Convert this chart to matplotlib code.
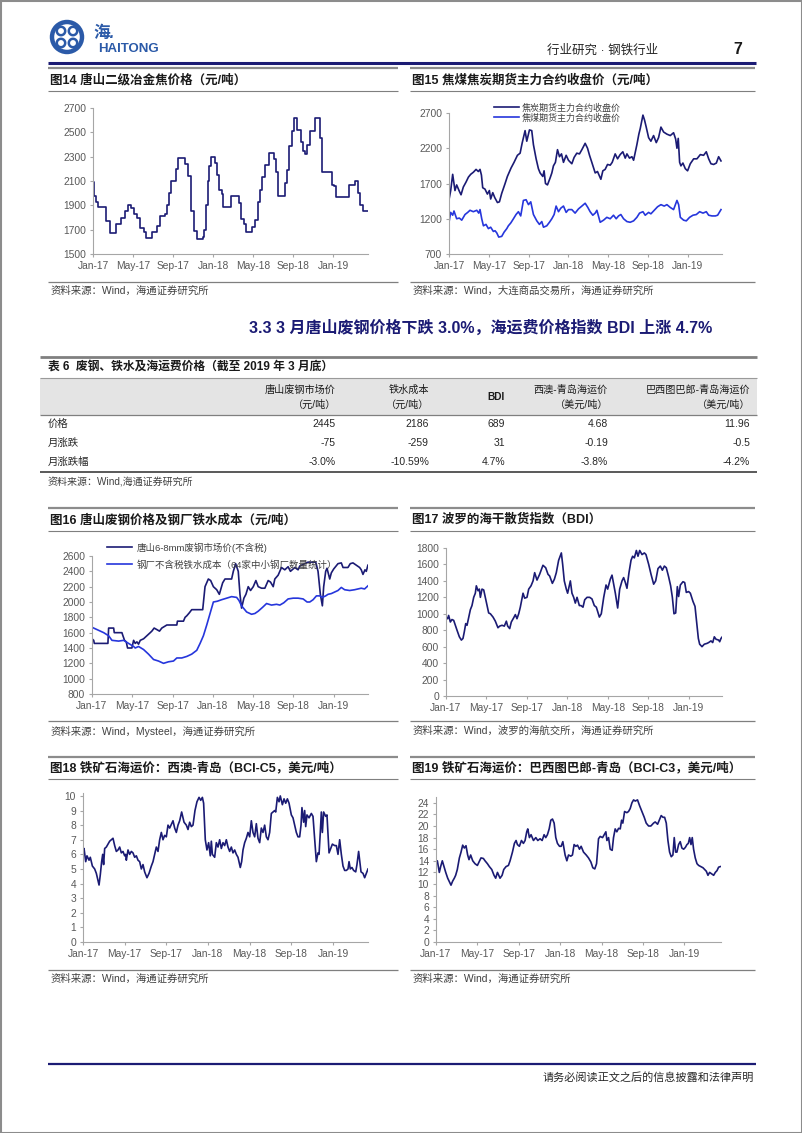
import matplotlib
matplotlib.use("Agg")
import matplotlib.pyplot as plt
from matplotlib.patches import Rectangle, Circle

plt.rcParams['font.family'] = ['Liberation Sans', 'Noto Sans CJK SC']

NAVY = '#1b1b74'
BLUE = '#2636dc'
GRID_GRAY = '#a6a6a6'
TXT_GRAY = '#595959'

month_ticks = [0, 4, 8, 12, 16, 20, 24]
month_labels = ['Jan-17', 'May-17', 'Sep-17', 'Jan-18', 'May-18', 'Sep-18', 'Jan-19']

# (months since Jan-17, value)
coke_tangshan = [
    (0.0, 2090), (0.07, 1980), (0.27, 1930), (0.47, 1890), (1.27, 1770), (1.73, 1670),
    (2.33, 1750), (2.83, 1800), (3.17, 1850), (3.5, 1900), (3.83, 1880), (4.1, 1830),
    (4.43, 1800), (4.67, 1710), (5.07, 1680), (5.33, 1630), (5.93, 1680), (6.43, 1730),
    (6.67, 1810), (7.17, 1830), (7.43, 1900), (7.6, 2000), (7.83, 2100), (8.27, 2200),
    (8.47, 2290), (9.23, 2240), (9.5, 2140), (9.83, 1850), (10.1, 1690), (10.43, 1620),
    (11.0, 1640), (11.13, 1700), (11.3, 1900), (11.47, 2100), (11.63, 2220), (11.83, 2300),
    (12.23, 2250), (12.4, 2150), (12.63, 2030), (12.87, 1990), (13.03, 1890), (13.83, 1980),
    (14.57, 1920), (14.8, 1790), (15.07, 1750), (15.33, 1680), (15.93, 1720), (16.2, 1780),
    (16.5, 1930), (16.73, 2030), (16.93, 2130), (17.2, 2230), (17.6, 2330), (18.07, 2280),
    (18.3, 2170), (18.53, 1980), (19.2, 2080), (19.4, 2190), (19.6, 2390), (19.87, 2510),
    (20.13, 2620), (20.37, 2520), (20.77, 2420), (20.97, 2350), (21.2, 2320), (21.43, 2400),
    (21.73, 2510), (22.17, 2620), (22.73, 2450), (22.93, 2170), (23.87, 2070), (24.07, 2060),
    (24.27, 1970), (25.6, 2070), (26.23, 2100), (26.47, 2000), (26.67, 1900), (27.0, 1850),
    (27.5, 1850),
]

coke_futures = [
    (0.0, 1470), (0.17, 1600), (0.37, 1830), (0.6, 1600), (0.77, 1680), (1.04, 1590),
    (1.21, 1540), (1.44, 1650), (1.71, 1720), (1.95, 1790), (2.18, 1830), (2.45, 1860),
    (2.72, 1900), (2.95, 1870), (3.12, 1900), (3.26, 1820), (3.39, 1640), (3.62, 1620),
    (3.86, 1550), (4.06, 1600), (4.19, 1480), (4.4, 1570), (4.6, 1500), (4.87, 1430),
    (5.07, 1440), (5.3, 1560), (5.64, 1700), (5.87, 1800), (6.24, 1920), (6.54, 2000),
    (6.88, 2100), (7.15, 2130), (7.35, 2270), (7.65, 2450), (7.82, 2300), (8.09, 2460),
    (8.32, 2450), (8.49, 2250), (8.76, 2050), (8.99, 1910), (9.16, 1850), (9.43, 1800),
    (9.56, 1880), (9.7, 1700), (9.9, 1680), (10.17, 1780), (10.34, 1850), (10.5, 1950),
    (10.7, 2000), (10.91, 2180), (11.11, 2080), (11.31, 2120), (11.51, 2000), (11.78, 2100),
    (12.01, 2030), (12.35, 1980), (12.58, 2070), (12.85, 2130), (13.12, 2120), (13.36, 2180),
    (13.69, 2270), (13.93, 2200), (14.13, 2100), (14.36, 2000), (14.7, 1850), (14.93, 1870),
    (15.27, 1760), (15.47, 1880), (15.7, 1900), (15.94, 1970), (16.21, 1960), (16.41, 2000),
    (16.71, 2120), (16.95, 2050), (17.21, 2110), (17.48, 2150), (17.72, 2060), (17.89, 2120),
    (18.15, 2060), (18.39, 2080), (18.56, 2030), (18.89, 2250), (19.09, 2400), (19.23, 2480),
    (19.5, 2670), (19.66, 2600), (19.83, 2500), (20.07, 2350), (20.3, 2300), (20.57, 2380),
    (20.84, 2280), (21.07, 2350), (21.31, 2500), (21.58, 2430), (21.91, 2400), (22.25, 2380),
    (22.58, 2420), (22.79, 2330), (22.92, 2200), (23.05, 2340), (23.19, 2000), (23.32, 1950),
    (23.52, 1990), (23.76, 1910), (23.99, 1880), (24.26, 1980), (24.6, 2050), (24.93, 2050),
    (25.27, 2110), (25.6, 2100), (25.87, 2150), (26.11, 2050), (26.34, 1980), (26.61, 1970),
    (26.88, 1990), (27.11, 2080), (27.35, 2020),
]

coal_futures = [
    (0.0, 1150), (0.17, 1290), (0.37, 1250), (0.5, 1310), (0.77, 1200), (1.04, 1210),
    (1.28, 1180), (1.61, 1260), (1.88, 1290), (2.11, 1320), (2.45, 1300), (2.79, 1320),
    (2.99, 1280), (3.12, 1330), (3.29, 1200), (3.46, 1100), (3.72, 1120), (3.96, 1060),
    (4.19, 1080), (4.46, 1020), (4.63, 1030), (4.8, 1000), (5.0, 940), (5.3, 950),
    (5.54, 1010), (5.81, 1060), (5.97, 1100), (6.21, 1140), (6.48, 1200), (6.74, 1260),
    (6.98, 1300), (7.21, 1240), (7.48, 1460), (7.75, 1470), (7.99, 1400), (8.22, 1440),
    (8.49, 1260), (8.83, 1170), (9.09, 1120), (9.33, 1160), (9.5, 1080), (9.83, 1100),
    (10.1, 1150), (10.34, 1200), (10.57, 1260), (10.77, 1380), (11.01, 1300), (11.24, 1350),
    (11.51, 1380), (11.78, 1290), (12.01, 1330), (12.35, 1330), (12.68, 1280), (13.02, 1340),
    (13.36, 1380), (13.69, 1420), (13.96, 1360), (14.19, 1300), (14.46, 1250), (14.7, 1280),
    (14.87, 1320), (15.2, 1150), (15.54, 1180), (15.87, 1220), (16.21, 1200), (16.54, 1250),
    (16.81, 1200), (17.05, 1240), (17.28, 1260), (17.55, 1200), (17.89, 1160), (18.22, 1150),
    (18.56, 1170), (18.89, 1220), (19.16, 1280), (19.5, 1300), (19.73, 1250), (20.07, 1290),
    (20.3, 1270), (20.57, 1310), (20.97, 1370), (21.31, 1400), (21.64, 1380), (21.91, 1400),
    (22.25, 1360), (22.58, 1330), (22.92, 1460), (23.09, 1400), (23.26, 1220), (23.59, 1180),
    (23.86, 1170), (24.19, 1220), (24.53, 1250), (24.87, 1260), (25.2, 1300), (25.54, 1280),
    (25.87, 1300), (26.11, 1250), (26.44, 1240), (26.78, 1240), (27.01, 1250), (27.35, 1330),
]

scrap_price = [
    (0.0, 1520), (0.17, 1500), (0.23, 1460), (1.58, 1460), (1.65, 1660), (2.15, 1660),
    (2.21, 1600), (2.97, 1600), (3.07, 1560), (3.23, 1500), (3.4, 1480), (3.53, 1400),
    (3.96, 1400), (4.13, 1500), (4.29, 1460), (4.46, 1480), (4.62, 1450), (4.79, 1500),
    (5.12, 1520), (5.45, 1560), (5.78, 1600), (5.94, 1620), (6.17, 1660), (6.44, 1640),
    (6.7, 1620), (6.93, 1660), (7.43, 1700), (8.42, 1700), (8.48, 1750), (9.08, 1750),
    (9.24, 1800), (9.41, 1820), (9.67, 1860), (9.9, 1900), (10.99, 1900), (11.22, 2200),
    (11.55, 2300), (11.78, 2280), (12.05, 2200), (12.38, 2160), (12.64, 2100), (12.97, 2250),
    (13.2, 2300), (13.86, 2300), (14.03, 2400), (14.26, 2500), (14.52, 2400), (14.69, 2100),
    (14.85, 1920), (15.08, 2050), (15.28, 2100), (15.51, 2200), (15.74, 2150), (16.01, 2200),
    (16.27, 2280), (16.5, 2200), (16.83, 2180), (17.16, 2180), (17.49, 2280), (17.72, 2260),
    (17.99, 2200), (18.15, 2300), (18.48, 2350), (18.81, 2450), (19.14, 2420), (19.47, 2460),
    (19.7, 2400), (20.13, 2450), (20.46, 2420), (20.63, 2470), (21.12, 2500), (21.45, 2520),
    (22.21, 2520), (22.44, 2400), (22.67, 2100), (22.87, 1950), (23.0, 2200), (23.2, 2400),
    (23.33, 2440), (23.6, 2300), (23.76, 2380), (23.99, 2430), (24.42, 2500), (24.75, 2510),
    (24.92, 2450), (25.41, 2450), (25.64, 2500), (25.91, 2510), (26.24, 2480), (26.57, 2450),
    (26.73, 2420), (26.9, 2360), (27.1, 2420), (27.23, 2400), (27.39, 2480),
]

hot_metal_cost = [
    (0.0, 1670), (0.5, 1640), (1.16, 1600), (1.65, 1560), (1.98, 1500), (2.64, 1490),
    (3.14, 1500), (3.63, 1460), (4.13, 1420), (4.29, 1400), (4.62, 1420), (5.12, 1380),
    (5.61, 1320), (6.11, 1250), (6.6, 1230), (7.1, 1200), (7.59, 1220), (8.09, 1230),
    (8.42, 1270), (8.91, 1270), (9.41, 1290), (9.9, 1320), (10.4, 1370), (10.73, 1460),
    (11.06, 1560), (11.39, 1700), (11.72, 1850), (12.05, 2000), (12.44, 2010), (12.87, 2030),
    (13.37, 2050), (13.86, 2070), (14.36, 2060), (14.59, 2020), (14.85, 1950), (15.35, 1870),
    (15.84, 1840), (16.17, 1850), (16.5, 1880), (16.93, 1930), (17.33, 1980), (17.82, 1960),
    (18.32, 1970), (18.65, 1960), (19.04, 1990), (19.47, 2040), (19.97, 2050), (20.46, 2050),
    (20.96, 2040), (21.35, 2000), (21.62, 2000), (21.95, 2030), (22.28, 2080), (22.61, 2080),
    (22.87, 2060), (23.2, 2080), (23.43, 2100), (23.76, 2110), (24.09, 2130), (24.42, 2150),
    (24.75, 2190), (25.08, 2160), (25.58, 2150), (26.07, 2160), (26.4, 2170), (26.73, 2180),
    (27.06, 2170), (27.39, 2210),
]

bdi = [
    (0.0, 960), (0.16, 940), (0.26, 980), (0.43, 900), (0.59, 930), (0.76, 920), (0.92, 860),
    (1.09, 800), (1.32, 720), (1.52, 680), (1.68, 700), (1.81, 780), (1.95, 880), (2.08, 860),
    (2.24, 950), (2.41, 1050), (2.57, 1100), (2.74, 1200), (2.9, 1250), (3.0, 1340),
    (3.17, 1280), (3.3, 1300), (3.4, 1200), (3.56, 1300), (3.73, 1290), (3.89, 1200),
    (4.06, 1100), (4.22, 1010), (4.39, 1000), (4.65, 960), (4.88, 910), (5.14, 830),
    (5.31, 850), (5.54, 860), (5.77, 850), (5.97, 910), (6.1, 850), (6.3, 820), (6.46, 900),
    (6.69, 950), (6.86, 990), (7.02, 940), (7.19, 1000), (7.35, 1080), (7.62, 1250),
    (7.78, 1190), (8.01, 1200), (8.18, 1300), (8.41, 1340), (8.61, 1400), (8.77, 1500),
    (9.0, 1410), (9.26, 1480), (9.59, 1590), (9.86, 1560), (10.09, 1480), (10.25, 1460),
    (10.52, 1370), (10.72, 1420), (10.91, 1500), (11.14, 1650), (11.41, 1740), (11.54, 1600),
    (11.7, 1400), (11.9, 1300), (12.03, 1250), (12.3, 1400), (12.46, 1250), (12.63, 1200),
    (12.79, 1130), (12.96, 1200), (13.19, 1100), (13.35, 1100), (13.55, 1080), (13.72, 1170),
    (13.95, 1200), (14.21, 1200), (14.44, 1180), (14.67, 1100), (14.87, 1080), (15.17, 960),
    (15.36, 1000), (15.6, 1200), (15.83, 1350), (15.99, 1300), (16.25, 1420), (16.42, 1470),
    (16.58, 1360), (16.75, 1250), (16.98, 1070), (17.18, 1300), (17.41, 1400), (17.57, 1440),
    (17.74, 1380), (17.9, 1310), (18.1, 1500), (18.3, 1650), (18.46, 1700), (18.63, 1680),
    (18.83, 1770), (18.99, 1700), (19.16, 1770), (19.39, 1720), (19.62, 1740), (19.78, 1720),
    (20.05, 1600), (20.28, 1480), (20.54, 1360), (20.74, 1400), (20.97, 1550), (21.2, 1580),
    (21.4, 1530), (21.6, 1580), (21.79, 1560), (22.02, 1450), (22.22, 1340), (22.39, 1200),
    (22.55, 1000), (22.72, 1010), (22.88, 1330), (23.01, 1210), (23.18, 1350), (23.44, 1390),
    (23.61, 1380), (23.77, 1260), (24.0, 1270), (24.17, 1250), (24.43, 1150), (24.63, 1090),
    (24.79, 900), (24.96, 700), (25.09, 630), (25.32, 600), (25.55, 630), (25.82, 640),
    (25.98, 650), (26.21, 670), (26.38, 650), (26.54, 720), (26.71, 690), (26.97, 680),
    (27.07, 660), (27.2, 700), (27.33, 720),
]

bci_c5 = [
    (0.0, 6.2), (0.1, 6.4), (0.26, 5.5), (0.38, 5.9), (0.58, 5.6), (0.7, 5.8), (0.9, 5.2),
    (1.12, 5.0), (1.28, 4.7), (1.44, 4.2), (1.54, 3.9), (1.66, 4.6), (1.79, 5.5), (1.89, 6.0),
    (1.98, 5.3), (2.08, 6.4), (2.24, 6.5), (2.4, 6.7), (2.56, 6.9), (2.72, 7.0), (2.88, 7.1),
    (3.04, 6.6), (3.2, 6.2), (3.36, 6.3), (3.52, 6.5), (3.68, 6.1), (3.84, 6.2), (4.0, 5.9),
    (4.1, 6.0), (4.16, 5.6), (4.32, 6.3), (4.48, 6.0), (4.64, 6.2), (4.8, 6.1), (4.96, 5.8),
    (5.12, 5.9), (5.28, 5.6), (5.44, 5.5), (5.6, 5.0), (5.76, 5.3), (5.92, 4.8), (6.14, 4.4),
    (6.34, 4.7), (6.56, 5.2), (6.72, 5.5), (6.88, 6.0), (7.04, 6.5), (7.2, 6.2), (7.36, 7.0),
    (7.52, 7.5), (7.68, 7.0), (7.84, 7.3), (8.0, 7.2), (8.16, 8.0), (8.32, 7.8), (8.64, 8.3),
    (8.8, 7.8), (8.96, 7.5), (9.12, 8.0), (9.28, 8.3), (9.47, 8.9), (9.7, 8.2), (9.92, 8.0),
    (10.08, 7.7), (10.24, 8.2), (10.4, 7.9), (10.56, 8.0), (10.75, 9.0), (10.94, 9.6),
    (11.14, 9.9), (11.3, 9.7), (11.46, 9.9), (11.58, 9.5), (11.74, 7.0), (11.9, 6.3),
    (12.06, 6.8), (12.22, 5.9), (12.32, 6.9), (12.42, 6.0), (12.64, 5.8), (12.8, 6.8),
    (12.96, 6.5), (13.12, 7.0), (13.28, 6.4), (13.44, 6.8), (13.6, 6.6), (13.76, 7.0),
    (13.92, 6.5), (14.08, 6.2), (14.24, 6.5), (14.4, 6.1), (14.56, 6.3), (14.72, 6.0),
    (14.88, 5.8), (15.1, 5.1), (15.23, 5.5), (15.36, 6.3), (15.52, 6.8), (15.68, 7.1),
    (15.84, 7.5), (16.0, 7.2), (16.16, 8.3), (16.32, 7.5), (16.48, 7.2), (16.64, 8.1),
    (16.8, 7.1), (16.96, 6.8), (17.12, 7.8), (17.28, 7.5), (17.44, 8.0), (17.6, 7.2),
    (17.76, 7.0), (17.92, 7.5), (18.08, 8.8), (18.24, 8.9), (18.4, 9.0), (18.5, 8.9),
    (18.66, 9.9), (18.82, 9.6), (18.94, 10.0), (19.14, 9.4), (19.3, 9.8), (19.46, 9.5),
    (19.62, 9.8), (19.78, 9.5), (20.0, 8.7), (20.16, 8.5), (20.32, 8.0), (20.48, 7.5),
    (20.64, 7.2), (20.8, 7.2), (20.93, 8.0), (21.02, 9.2), (21.18, 8.2), (21.28, 9.0),
    (21.38, 7.9), (21.5, 8.7), (21.7, 8.5), (21.92, 8.8), (22.08, 8.6), (22.24, 7.0),
    (22.4, 5.5), (22.56, 6.1), (22.66, 6.0), (22.78, 7.5), (22.88, 8.9), (22.98, 7.5),
    (23.1, 8.9), (23.3, 8.6), (23.42, 8.7), (23.62, 6.1), (23.78, 6.4), (23.94, 6.7),
    (24.16, 6.6), (24.32, 6.6), (24.48, 6.0), (24.64, 7.0), (24.8, 6.0), (24.96, 5.2),
    (25.12, 4.9), (25.28, 4.9), (25.44, 5.0), (25.54, 5.5), (25.66, 5.0), (25.82, 5.1),
    (25.98, 4.9), (26.18, 4.8), (26.3, 5.3), (26.46, 6.2), (26.56, 5.6), (26.69, 4.8),
    (26.88, 4.7), (27.04, 4.4), (27.2, 4.7), (27.36, 5.0),
]

bci_c3 = [
    (0.0, 13.5), (0.13, 14.0), (0.32, 12.0), (0.45, 13.0), (0.61, 14.0), (0.77, 13.0),
    (0.94, 12.0), (1.13, 11.0), (1.26, 10.5), (1.45, 9.8), (1.61, 10.5), (1.77, 11.0),
    (1.9, 11.5), (2.06, 12.5), (2.26, 14.5), (2.42, 15.5), (2.58, 16.7), (2.74, 16.2),
    (2.9, 16.6), (3.06, 15.0), (3.19, 14.2), (3.35, 15.0), (3.55, 14.0), (3.77, 13.5),
    (4.0, 13.2), (4.16, 13.8), (4.35, 14.5), (4.58, 14.4), (4.74, 14.0), (4.97, 13.5),
    (5.16, 13.0), (5.39, 12.5), (5.61, 11.5), (5.77, 11.0), (5.94, 12.0), (6.19, 11.0),
    (6.39, 11.5), (6.55, 12.5), (6.77, 13.0), (7.0, 13.2), (7.16, 14.0), (7.39, 15.5),
    (7.58, 17.0), (7.74, 17.5), (7.87, 16.8), (8.06, 16.5), (8.26, 17.5), (8.45, 17.0),
    (8.61, 17.5), (8.77, 19.0), (8.87, 19.5), (9.03, 18.0), (9.19, 18.5), (9.42, 17.5),
    (9.65, 18.0), (9.84, 17.5), (10.06, 17.8), (10.26, 17.5), (10.45, 18.5), (10.61, 18.0),
    (10.77, 18.5), (10.94, 19.5), (11.1, 21.0), (11.26, 21.2), (11.42, 20.5), (11.58, 18.0),
    (11.74, 17.0), (11.94, 16.5), (12.1, 16.5), (12.26, 17.3), (12.48, 15.0), (12.65, 14.0),
    (12.81, 15.0), (13.03, 14.8), (13.19, 15.0), (13.35, 16.8), (13.52, 16.5), (13.68, 16.7),
    (13.87, 16.0), (14.03, 16.5), (14.26, 15.5), (14.52, 15.0), (14.74, 14.5), (14.97, 13.8),
    (15.16, 12.8), (15.35, 12.6), (15.52, 13.5), (15.71, 17.8), (15.87, 18.2), (16.1, 18.0),
    (16.26, 18.5), (16.42, 19.0), (16.52, 17.5), (16.68, 18.0), (16.84, 16.0), (17.03, 15.8),
    (17.16, 18.0), (17.32, 19.5), (17.48, 19.0), (17.65, 19.6), (17.81, 19.5), (17.94, 21.0),
    (18.06, 20.5), (18.23, 22.5), (18.45, 22.3), (18.61, 22.5), (18.77, 23.0), (18.94, 24.0),
    (19.1, 24.5), (19.26, 24.3), (19.48, 24.5), (19.68, 23.5), (19.9, 22.5), (20.13, 21.5),
    (20.32, 20.5), (20.55, 20.0), (20.77, 20.0), (21.03, 20.5), (21.19, 20.7), (21.42, 20.3),
    (21.58, 21.0), (21.77, 21.8), (21.94, 21.5), (22.1, 21.5), (22.26, 20.5), (22.42, 17.5),
    (22.58, 15.5), (22.74, 14.7), (22.9, 15.0), (23.03, 18.0), (23.16, 15.5), (23.29, 15.5),
    (23.45, 16.8), (23.61, 17.3), (23.77, 16.2), (23.94, 16.0), (24.1, 16.3), (24.26, 16.8),
    (24.39, 17.0), (24.52, 18.0), (24.65, 16.8), (24.77, 18.0), (24.9, 16.0), (25.06, 14.5),
    (25.23, 13.5), (25.39, 13.2), (25.61, 13.0), (25.81, 12.8), (25.97, 12.5), (26.13, 12.2),
    (26.29, 11.5), (26.45, 12.0), (26.68, 11.7), (26.84, 11.5), (27.0, 12.0), (27.16, 12.3),
    (27.32, 12.9), (27.48, 13.0),
]

table_cols = ['唐山废钢市场价\n（元/吨）', '铁水成本\n（元/吨）', 'BDI',
              '西澳-青岛海运价\n（美元/吨）', '巴西图巴郎-青岛海运价\n（美元/吨）']
table_rows = ['价格', '月涨跌', '月涨跌幅']
table_vals = [
    ['2445', '2186', '689', '4.68', '11.96'],
    ['-75', '-259', '31', '-0.19', '-0.5'],
    ['-3.0%', '-10.59%', '4.7%', '-3.8%', '-4.2%'],
]

W, H = 802, 1133
fig = plt.figure(figsize=(W / 100, H / 100), dpi=100)

# page layer in pixel coordinates
bg = fig.add_axes([0, 0, 1, 1])
bg.set_xlim(0, W)
bg.set_ylim(H, 0)
bg.axis('off')


def hline(y, x0, x1, color='#8c8c8c', lw=1.0):
    bg.plot([x0, x1], [y, y], color=color, lw=lw, solid_capstyle='butt')


bg.add_patch(Rectangle((0.5, 0.5), W - 1, H - 1, fill=False, ec='#8c8c8c', lw=1.5))

# header
bg.add_patch(Circle((67, 37), 15, fill=False, ec='#2b5aa8', lw=3.2))
for dx, dy in [(-6, -6), (6, -6), (-6, 6), (6, 6)]:
    bg.add_patch(Circle((67 + dx, 37 + dy), 4.2, fill=False, ec='#2b5aa8', lw=1.8))
bg.text(93, 33, '海.', fontsize=12, color='#2b5aa8', fontweight='bold', va='center',
        style='italic')
bg.text(98, 49, 'HAITONG', fontsize=9.5, color='#2b5aa8', fontweight='bold', va='center')
bg.text(658, 51, '行业研究 · 钢铁行业', fontsize=9, color='#262626', ha='right', va='center')
bg.text(738, 49, '7', fontsize=11.5, color='#1a1a1a', ha='center', va='center',
        fontweight='bold')
hline(63, 48, 756, color=NAVY, lw=2.2)


def panel_frame(x0, x1, ytop, ytitle, yline, ysrc, title, source):
    hline(ytop, x0, x1, color='#8c8c8c', lw=1.6)
    bg.text(x0 + 2, ytitle, title, fontsize=9, fontweight='bold', color='#1a1a1a',
            va='center')
    hline(ytitle + 11, x0, x1, color='#7f7f7f', lw=0.8)
    hline(yline, x0, x1, color='#7f7f7f', lw=0.9)
    bg.text(x0 + 3, ysrc, source, fontsize=7.5, color='#404040', va='center')


LX0, LX1, RX0, RX1 = 48, 398, 410, 755
panel_frame(LX0, LX1, 68, 80, 282, 291, '图14 唐山二级冶金焦价格（元/吨）',
            '资料来源：Wind，海通证券研究所')
panel_frame(RX0, RX1, 68, 80, 282, 291, '图15 焦煤焦炭期货主力合约收盘价（元/吨）',
            '资料来源：Wind，大连商品交易所，海通证券研究所')
panel_frame(LX0, LX1, 508, 520, 721, 731, '图16 唐山废钢价格及钢厂铁水成本（元/吨）',
            '资料来源：Wind，Mysteel，海通证券研究所')
panel_frame(RX0, RX1, 508, 520, 721, 731, '图17 波罗的海干散货指数（BDI）',
            '资料来源：Wind，波罗的海航交所，海通证券研究所')
panel_frame(LX0, LX1, 757, 768, 970, 979, '图18 铁矿石海运价：西澳-青岛（BCI-C5，美元/吨）',
            '资料来源：Wind，海通证券研究所')
panel_frame(RX0, RX1, 757, 768, 970, 979, '图19 铁矿石海运价：巴西图巴郎-青岛（BCI-C3，美元/吨）',
            '资料来源：Wind，海通证券研究所')

# section heading
bg.text(712, 328, '3.3 3 月唐山废钢价格下跌 3.0%，海运费价格指数 BDI 上涨 4.7%',
        fontsize=11.5, fontweight='bold', color=NAVY, ha='right', va='center')

# table
hline(357, 40, 757, color='#808080', lw=2)
bg.text(48, 367, '表 6  废钢、铁水及海运费价格（截至 2019 年 3 月底）', fontsize=8.5,
        fontweight='bold', color='#1a1a1a', va='center')
bg.add_patch(Rectangle((40, 378), 717, 37, fc='#e4e4e4', ec='none'))
hline(378, 40, 757, color='#9a9a9a', lw=0.8)
hline(415, 40, 757, color='#7f7f7f', lw=0.9)
col_right = [336, 429, 505, 608, 750]
for xr, lab in zip(col_right, table_cols):
    bg.text(xr, 397, lab, fontsize=7.3, color='#1a1a1a', ha='right', va='center',
            multialignment='right', linespacing=1.55,
            fontweight='bold' if lab == 'BDI' else 'normal')
row_y = [424, 443, 462]
for yy, lab, vals in zip(row_y, table_rows, table_vals):
    bg.text(48, yy, lab, fontsize=7.5, color='#262626', va='center')
    for xr, v in zip(col_right, vals):
        bg.text(xr, yy, v, fontsize=7.5, color='#262626', ha='right', va='center')
hline(472, 40, 757, color='#595959', lw=1.4)
bg.text(48, 482, '资料来源：Wind,海通证券研究所', fontsize=7.2, color='#404040', va='center')

# footer
hline(1064, 48, 756, color=NAVY, lw=1.6)
bg.text(754, 1077, '请务必阅读正文之后的信息披露和法律声明', fontsize=8, color='#262626',
        ha='right', va='center')


def make_axes(px_left, px_top, px_right, px_bottom, ylim, yticks, xmax):
    ax = fig.add_axes([px_left / W, 1 - px_bottom / H, (px_right - px_left) / W,
                       (px_bottom - px_top) / H])
    ax.set_facecolor('none')
    ax.set_xlim(0, xmax)
    ax.set_ylim(*ylim)
    ax.set_yticks(yticks)
    ax.set_xticks(month_ticks)
    ax.set_xticklabels(month_labels)
    for s in ['top', 'right']:
        ax.spines[s].set_visible(False)
    for s in ['left', 'bottom']:
        ax.spines[s].set_color(GRID_GRAY)
        ax.spines[s].set_linewidth(0.8)
    ax.tick_params(axis='both', colors=GRID_GRAY, labelcolor=TXT_GRAY, labelsize=7.4,
                   length=2.5, width=0.8, direction='out', pad=2.5)
    return ax


def draw(ax, series, color, label=None, **kw):
    xs, ys = zip(*series)
    ax.plot(xs, ys, color=color, lw=1.2, label=label, **kw)


ax14 = make_axes(93, 108, 368, 254, (1500, 2700), range(1500, 2701, 200), 27.5)
draw(ax14, coke_tangshan, NAVY, drawstyle='steps-post')

ax15 = make_axes(449, 113, 722, 254, (700, 2700), range(700, 2701, 500), 27.45)
draw(ax15, coke_futures, NAVY, '焦炭期货主力合约收盘价')
draw(ax15, coal_futures, BLUE, '焦煤期货主力合约收盘价')
ax15.legend(loc='upper left', bbox_to_anchor=(0.165, 1.07), frameon=False, fontsize=6.5,
            handlelength=2.8, handletextpad=0.3, labelspacing=0.1, borderpad=0,
            borderaxespad=0, labelcolor='#404040')

ax16 = make_axes(92, 556, 368, 694, (800, 2600), range(800, 2601, 200), 27.4)
draw(ax16, scrap_price, NAVY, '唐山6-8mm废钢市场价(不含税)')
draw(ax16, hot_metal_cost, BLUE, '钢厂不含税铁水成本（64家中小钢厂数量统计）')
ax16.legend(loc='upper left', bbox_to_anchor=(0.054, 1.10), frameon=False, fontsize=6.8,
            handlelength=2.7, handletextpad=0.5, labelspacing=0.75, borderpad=0,
            borderaxespad=0, labelcolor='#404040')

ax17 = make_axes(446, 548, 722, 696, (0, 1800), range(0, 1801, 200), 27.3)
draw(ax17, bdi, NAVY)

ax18 = make_axes(83, 793, 368, 942, (0, 10.2), range(0, 11), 27.36)
draw(ax18, bci_c5, NAVY)

ax19 = make_axes(436, 797, 721, 942, (0, 25), range(0, 25, 2), 27.55)
draw(ax19, bci_c3, NAVY)

fig.savefig('out.png', dpi=100)
